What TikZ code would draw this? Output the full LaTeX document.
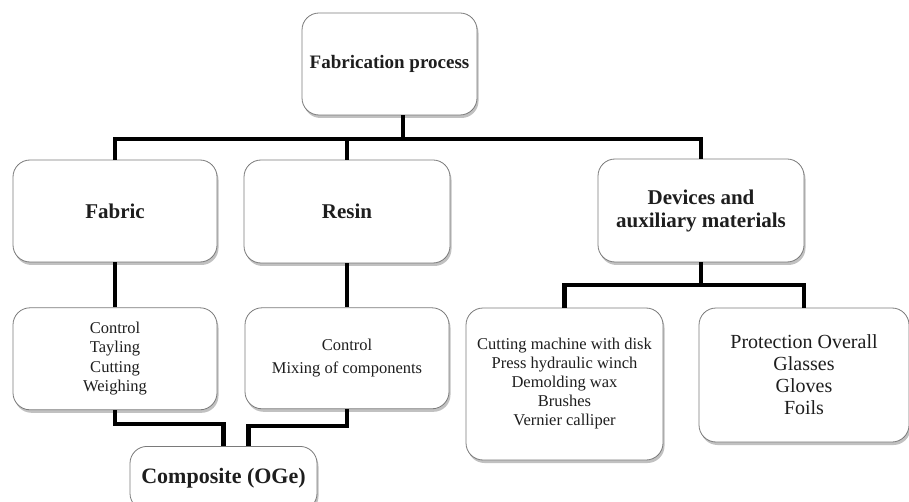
\documentclass[tikz,border=0pt]{standalone}
\usepackage{fontspec}
\setmainfont{Liberation Serif}
\usetikzlibrary{positioning, shadows, calc}
\definecolor{boxline}{HTML}{7A7A7A}
\definecolor{inktext}{HTML}{1E1E1E}
\tikzset{
  box/.style={rectangle, rounded corners=17pt, draw=boxline, line width=0.8pt, fill=white,
              align=center, text=inktext, inner sep=2pt,
              drop shadow={shadow xshift=1.5pt, shadow yshift=-3pt, opacity=0.35, fill=black!70}},
  head/.style={box, font=\fontsize{21}{23}\selectfont\bfseries},
  list/.style={box, font=\fontsize{16.5}{19.5}\selectfont},
  link/.style={line width=4.5pt, draw=black},
}

\begin{document}
\begin{tikzpicture}[x=1pt, y=-1pt]
  \useasboundingbox (0,0) rectangle (909,502);

  % first level
  \node[head, font=\fontsize{19}{21}\selectfont\bfseries, minimum width=175pt, minimum height=102pt] (proc) at (389.5,64) {Fabrication process};
  \node[head, minimum width=204pt, minimum height=102pt] (fabric) at (115,211) {Fabric};
  \node[head, minimum width=206pt, minimum height=103pt] (resin) at (347,211.5) {Resin};
  \node[head, minimum width=206pt, minimum height=103pt] (dev) at (701,210.5) {Devices and\\auxiliary materials};

  % steps under fabric and resin
  \node[list, minimum width=204pt, minimum height=102pt, below=45pt of fabric] (fabctl) {Control\\Tayling\\Cutting\\Weighing};
  \node[list, minimum width=204pt, minimum height=101pt, below=44pt of resin] (resctl) {Control\\[3.5pt]Mixing of components};
  \node[head, font=\fontsize{22}{24}\selectfont\bfseries, minimum width=187pt, minimum height=64pt, anchor=north] (comp) at (223.5,446) {Composite (OGe)};

  % devices
  \node[list, minimum width=197pt, minimum height=152pt] (tools) at (564.5,384)
    {Cutting machine with disk\\[-0.5pt]Press hydraulic winch\\[-0.5pt]Demolding wax\\[-0.5pt]Brushes\\[-0.5pt]Vernier calliper};
  \node[list, font=\fontsize{20}{22}\selectfont, minimum width=210pt, minimum height=134pt] (safety) at (804,375)
    {Protection Overall\\Glasses\\Gloves\\Foils};

  % connectors
  \coordinate (tbus) at (403,139);
  \draw[link] (proc.south -| tbus) -- (tbus);
  \draw[link] (fabric.north) -- (fabric.north |- tbus) -- (dev.north |- tbus) -- (dev.north);
  \draw[link] (resin.north) -- (resin.north |- tbus);
  \draw[link] (fabric) -- (fabctl);
  \draw[link] (resin) -- (resctl);
  \draw[link] (fabctl.south) -- ++(0,14) -| (comp.north);
  \draw[link] (resctl.south) -- ++(0,17) -| ($(comp.north)+(25,0)$);
  \coordinate (dbus) at (701,285);
  \draw[link] (dev.south) -- (dbus);
  \draw[link] (tools.north) -- (tools.north |- dbus) -- (safety.north |- dbus) -- (safety.north);
\end{tikzpicture}
\end{document}
